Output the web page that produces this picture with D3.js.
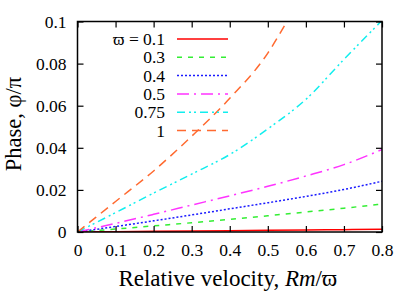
<!DOCTYPE html>
<html>
<head>
<meta charset="utf-8">
<script src="https://cdn.jsdelivr.net/npm/d3@7"></script>
<style>
  body { margin: 0; background: #fff; }
  svg { display: block; }
  svg text { font-family: "Liberation Serif", "Times New Roman", Times, serif; }
</style>
</head>
<body>
<svg id="chart" width="415" height="291"></svg>
<script>
// values
const velocity = [0, 0.1, 0.2, 0.3, 0.4, 0.5, 0.6, 0.7, 0.8];
const phase01 = [0, 0.00015, 0.0003, 0.00045, 0.0006, 0.00078, 0.00095, 0.0011, 0.0013];
const phase03 = [0, 0.0014, 0.0029, 0.0044, 0.006, 0.0077, 0.0095, 0.0113, 0.0133];
const phase04 = [0, 0.0026, 0.0053, 0.0081, 0.011, 0.0139, 0.0169, 0.0202, 0.0241];
const phase05 = [0, 0.0041, 0.0084, 0.0128, 0.0172, 0.0217, 0.0266, 0.032, 0.0392];
const phase075 = [0, 0.0092, 0.0185, 0.0275, 0.0368, 0.049, 0.063, 0.082, 0.1005];
const velocity1 = [0, 0.1, 0.2, 0.3, 0.4, 0.5, 0.55];
const phase1 = [0, 0.0145, 0.029, 0.0455, 0.0635, 0.085, 0.1];

const legendLabels = ["\u03D6 = 0.1", "0.3", "0.4", "0.5", "0.75", "1"];
const xTicks = [0, 0.1, 0.2, 0.3, 0.4, 0.5, 0.6, 0.7, 0.8];
const yTicks = [0, 0.02, 0.04, 0.06, 0.08, 0.1];

const series = [
  { xs: velocity, ys: phase01, color: "#ff0000", dash: null },
  { xs: velocity, ys: phase03, color: "#33ee33", dash: "5,6" },
  { xs: velocity, ys: phase04, color: "#1a1aff", dash: "2,2" },
  { xs: velocity, ys: phase05, color: "#ff33ff", dash: "12,5,2,5" },
  { xs: velocity, ys: phase075, color: "#11eeee", dash: "8,4,2,3,2,4" },
  { xs: velocity1, ys: phase1, color: "#ff6a30", dash: "9,6" },
];

const svg = d3.select("#chart"),
  margin = { top: 21.5, right: 33, bottom: 59, left: 77.5 },
  width = +svg.attr("width") - margin.left - margin.right,
  height = +svg.attr("height") - margin.top - margin.bottom;

const chart = svg.append("g")
  .attr("transform", `translate(${margin.left},${margin.top})`);

const x = d3.scaleLinear().domain([0, 0.8]).range([0, width]);
const y = d3.scaleLinear().domain([0, 0.1]).range([height, 0]);

chart.append("defs").append("clipPath").attr("id", "clip")
  .append("rect").attr("width", width).attr("height", height);

const line = d3.line()
  .x((d) => x(d[0]))
  .y((d) => y(d[1]))
  .curve(d3.curveMonotoneX);

chart.append("g").attr("clip-path", "url(#clip)")
  .selectAll("path")
  .data(series)
  .join("path")
  .attr("fill", "none")
  .attr("stroke", (d) => d.color)
  .attr("stroke-width", 1.5)
  .attr("stroke-dasharray", (d) => d.dash)
  .attr("d", (d) => line(d.xs.map((v, i) => [v, d.ys[i]])));

// axes with mirrored inward ticks
const fmt = (d) => (d === 0 ? "0" : String(+d.toFixed(2)));
const tickLen = 6;

const xAxis = chart.append("g")
  .attr("transform", `translate(0,${height})`)
  .call(d3.axisBottom(x).tickValues(xTicks).tickFormat(fmt).tickSizeInner(-tickLen).tickSizeOuter(0).tickPadding(12));
const xTop = chart.append("g")
  .call(d3.axisTop(x).tickValues(xTicks).tickFormat("").tickSizeInner(-tickLen).tickSizeOuter(0));
const yAxis = chart.append("g")
  .call(d3.axisLeft(y).tickValues(yTicks).tickFormat(fmt).tickSizeInner(-tickLen).tickSizeOuter(0).tickPadding(11));
const yRight = chart.append("g")
  .attr("transform", `translate(${width},0)`)
  .call(d3.axisRight(y).tickValues(yTicks).tickFormat("").tickSizeInner(-tickLen).tickSizeOuter(0));

[xAxis, xTop, yAxis, yRight].forEach((g) => {
  g.attr("font-family", null);
  g.select(".domain").remove();
  g.selectAll("line").attr("stroke", "#000").attr("stroke-width", 1.2);
  g.selectAll("text").attr("font-size", 17.5).attr("fill", "#000");
});

chart.append("rect")
  .attr("width", width)
  .attr("height", height)
  .attr("fill", "none")
  .attr("stroke", "#000")
  .attr("stroke-width", 1.5);

// legend
const legend = chart.append("g").attr("transform", "translate(0,17.5)");
const rows = legend.selectAll("g")
  .data(series)
  .join("g")
  .attr("transform", (d, i) => `translate(0,${i * 18.3})`);
rows.append("text")
  .attr("x", 165 - margin.left)
  .attr("y", 6)
  .attr("text-anchor", "end")
  .attr("font-size", 17.5)
  .text((d, i) => legendLabels[i]);
rows.append("line")
  .attr("x1", 177 - margin.left)
  .attr("x2", 228 - margin.left)
  .attr("stroke", (d) => d.color)
  .attr("stroke-width", 1.5)
  .attr("stroke-dasharray", (d) => d.dash);

// axis titles
const xLabel = svg.append("text")
  .attr("x", margin.left + width / 2 - 2)
  .attr("y", 286)
  .attr("text-anchor", "middle")
  .attr("font-size", 23);
xLabel.append("tspan").text("Relative velocity, ");
xLabel.append("tspan").attr("font-style", "italic").text("Rm");
xLabel.append("tspan").text("/\u03D6");

svg.append("text")
  .attr("transform", `translate(21,124) rotate(-90)`)
  .attr("text-anchor", "middle")
  .attr("font-size", 22.5)
  .text("Phase, \u03C6/\u03C0");
</script>
</body>
</html>
